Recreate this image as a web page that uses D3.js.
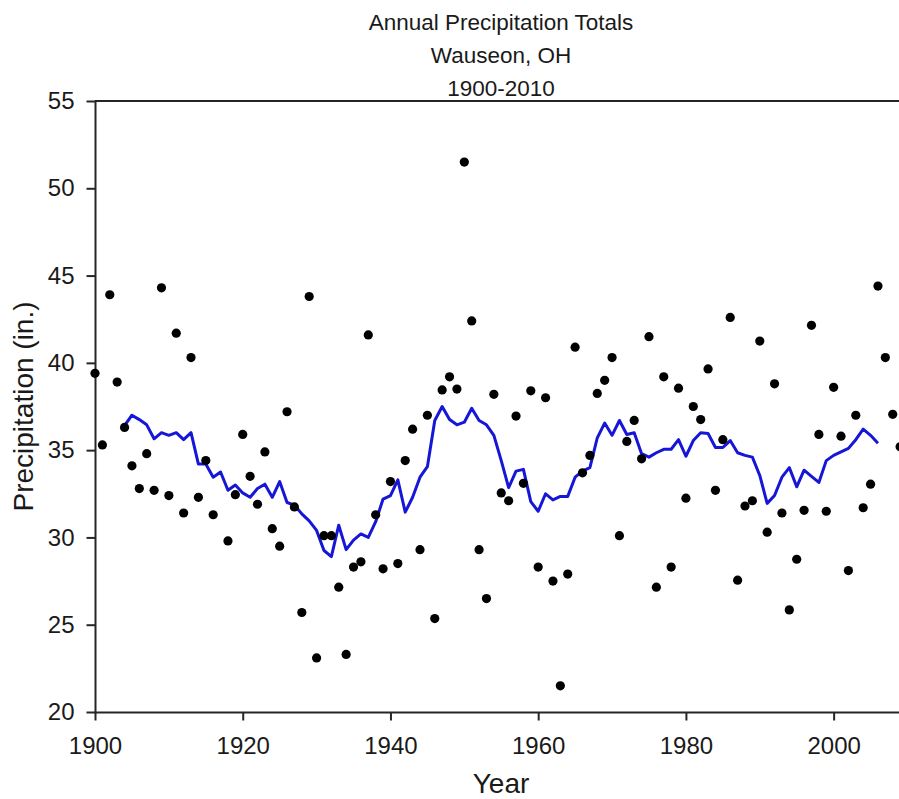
<!DOCTYPE html>
<meta charset="utf-8">
<style>

body { margin: 0; background: #fff; }

text {
  font-family: "Liberation Sans", Arial, sans-serif;
  fill: #1a1a1a;
}

.axis path,
.axis line {
  stroke: #262626;
  stroke-width: 2px;
}

.axis text {
  font-size: 24px;
  fill: #1a1a1a;
}

</style>
<svg width="899" height="799"></svg>
<script src="https://cdn.jsdelivr.net/npm/d3@7"></script>
<script>

// annual totals, 1900-2009 (1917 has no dot)
var years = d3.range(1900, 2010);
var totals = [
  39.4, 35.3, 43.9, 38.9, 36.3, 34.1, 32.8, 34.8, 32.7, 44.3,
  32.4, 41.7, 31.4, 40.3, 32.3, 34.4, 31.3, null, 29.8, 32.45,
  35.9, 33.5, 31.9, 34.9, 30.5, 29.5, 37.2, 31.75, 25.7, 43.8,
  23.1, 30.1, 30.1, 27.15, 23.3, 28.3, 28.6, 41.6, 31.3, 28.2,
  33.2, 28.5, 34.4, 36.2, 29.3, 37.0, 25.35, 38.45, 39.2, 38.5,
  51.5, 42.4, 29.3, 26.5, 38.2, 32.55, 32.1, 36.95, 33.1, 38.4,
  28.3, 38.0, 27.5, 21.5, 27.9, 40.9, 33.7, 34.7, 38.25, 39.0,
  40.3, 30.1, 35.5, 36.7, 34.5, 41.5, 27.15, 39.2, 28.3, 38.55,
  32.25, 37.5, 36.75, 39.65, 32.7, 35.6, 42.6, 27.55, 31.8, 32.1,
  41.25, 30.3, 38.8, 31.4, 25.85, 28.75, 31.55, 42.15, 35.9, 31.5,
  38.6, 35.8, 28.1, 37.0, 31.7, 33.05, 44.4, 40.3, 37.05, 35.2
];

// running mean (blue line), 1904-2006
var avgYears = d3.range(1904, 2007);
var avgValues = [
  36.4, 37.0, 36.75, 36.45, 35.65, 36.0,
  35.85, 36.0, 35.6, 36.0, 34.2, 34.2, 33.45, 33.75, 32.7, 33.0,
  32.55, 32.3, 32.8, 33.05, 32.3, 33.2, 32.0, 31.85, 31.35, 30.95,
  30.4, 29.25, 28.9, 30.7, 29.3, 29.85, 30.2, 30.0, 30.9, 32.2,
  32.4, 33.3, 31.45, 32.3, 33.45, 34.05, 36.7, 37.5, 36.75, 36.45,
  36.6, 37.4, 36.7, 36.45, 35.85, 34.4, 32.85, 33.8, 33.9, 32.05,
  31.5, 32.5, 32.15, 32.35, 32.35, 33.45, 33.8, 34.0, 35.7, 36.55,
  35.85, 36.7, 35.9, 36.0, 34.8, 34.6, 34.85, 35.05, 35.05, 35.6,
  34.65, 35.55, 36.0, 35.95, 35.15, 35.15, 35.55, 34.85, 34.7, 34.6,
  33.55, 31.95, 32.4, 33.45, 34.0, 32.9, 33.85, 33.5, 33.15, 34.4,
  34.7, 34.9, 35.1, 35.6, 36.2, 35.85, 35.4
];

var xTicks = [1900, 1920, 1940, 1960, 1980, 2000];
var yTicks = [20, 25, 30, 35, 40, 45, 50, 55];
var titleLines = ["Annual Precipitation Totals", "Wauseon, OH", "1900-2010"];

var svg = d3.select("svg");

var x = d3.scaleLinear()
    .domain([1900, 2010])
    .range([95, 907.5]);

var y = d3.scaleLinear()
    .domain([20, 55])
    .range([712, 101]);

// frame top
svg.append("line")
    .attr("x1", x(1900))
    .attr("x2", x(2010))
    .attr("y1", y(55))
    .attr("y2", y(55))
    .style("stroke", "#262626")
    .style("stroke-width", "2px");

svg.append("g")
    .attr("class", "axis")
    .attr("transform", "translate(0," + y(20) + ")")
    .call(d3.axisBottom(x)
      .tickValues(xTicks)
      .tickFormat(d3.format("d"))
      .tickSize(8.5)
      .tickSizeOuter(0)
      .tickPadding(16));

svg.append("g")
    .attr("class", "axis")
    .attr("transform", "translate(" + x(1900) + ",0)")
    .call(d3.axisLeft(y)
      .tickValues(yTicks)
      .tickSize(8.5)
      .tickSizeOuter(0)
      .tickPadding(12));

svg.selectAll(".axis .domain").style("stroke-linecap", "square");

// running mean
var line = d3.line()
    .x(function(d, i) { return x(avgYears[i]); })
    .y(function(d) { return y(d); });

svg.append("path")
    .datum(avgValues)
    .attr("d", line)
    .style("fill", "none")
    .style("stroke", "#1616d6")
    .style("stroke-width", "3px")
    .style("stroke-linejoin", "round");

// yearly dots
var points = years.map(function(yr, i) { return {year: yr, value: totals[i]}; })
    .filter(function(d) { return d.value != null; });

svg.append("g")
  .selectAll("circle")
  .data(points)
  .enter().append("circle")
    .attr("cx", function(d) { return x(d.year); })
    .attr("cy", function(d) { return y(d.value); })
    .attr("r", 4.6)
    .style("fill", "#000");

// titles
svg.append("g")
  .selectAll("text")
  .data(titleLines)
  .enter().append("text")
    .attr("x", 501)
    .attr("y", function(d, i) { return 29.5 + i * 33; })
    .style("text-anchor", "middle")
    .style("font-size", "22.5px")
    .text(function(d) { return d; });

svg.append("text")
    .attr("x", 501)
    .attr("y", 793)
    .style("text-anchor", "middle")
    .style("font-size", "28px")
    .text("Year");

svg.append("text")
    .attr("transform", "translate(33," + (y(20) + y(55)) / 2 + ") rotate(-90)")
    .style("text-anchor", "middle")
    .style("font-size", "28px")
    .text("Precipitation (in.)");

</script>
